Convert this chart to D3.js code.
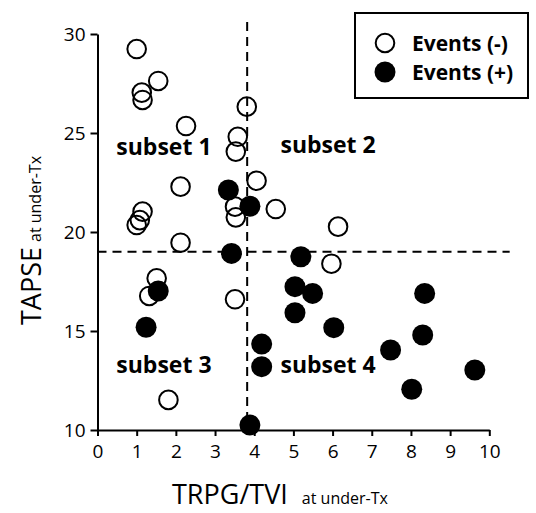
<!DOCTYPE html>
<meta charset="utf-8">
<script src="https://d3js.org/d3.v7.min.js"></script>
<style>
  body { margin: 0; background: #fff; }
  text { font-family: "Open Sans", sans-serif; fill: #000; }
</style>
<div id="chart"></div>
<script>
// Events (-) : open circles  [TRPG/TVI, TAPSE]
const eventsNeg = [
  [1.0, 29.24], [1.55, 27.63], [1.13, 27.04], [1.15, 26.67], [3.81, 26.33],
  [2.26, 25.35], [3.58, 24.81], [3.53, 24.06], [2.12, 22.29], [4.06, 22.59],
  [1.15, 21.03], [1.08, 20.6], [1.0, 20.35], [3.51, 21.28], [3.53, 20.74],
  [4.55, 21.16], [6.14, 20.27], [2.12, 19.46], [5.97, 18.4], [1.51, 17.66],
  [1.32, 16.77], [3.51, 16.6], [1.81, 11.52]
];
// Events (+) : filled circles
const eventsPos = [
  [3.34, 22.12], [3.89, 21.3], [3.42, 18.92], [5.19, 18.75], [5.04, 17.24],
  [5.49, 16.9], [1.55, 17.02], [5.04, 15.92], [1.24, 15.19], [6.03, 15.17],
  [8.35, 16.9], [8.3, 14.8], [7.48, 14.04], [4.19, 14.34], [4.19, 13.2],
  [9.63, 13.03], [8.02, 12.06], [3.89, 10.25]
];
const xTicks = [0, 1, 2, 3, 4, 5, 6, 7, 8, 9, 10];
const yTicks = [10, 15, 20, 25, 30];
const cutX = 3.82;   // vertical dashed cut-off
const cutY = 19.0;   // horizontal dashed cut-off
const subsets = [
  {label: "subset 1", x: 0.48, y: 23.9},
  {label: "subset 2", x: 4.67, y: 24.0},
  {label: "subset 3", x: 0.48, y: 12.9},
  {label: "subset 4", x: 4.67, y: 12.9}
];
const legendItems = ["Events (-)", "Events (+)"];

const width = 536, height = 513;

const svg = d3.select("#chart")
  .append("svg")
    .attr("width", width)
    .attr("height", height);

const x = d3.scaleLinear().domain([0, 10]).range([97.5, 489.3]);
const y = d3.scaleLinear().domain([10, 30]).range([430, 34]);

// axes
const xAxis = svg.append("g")
  .attr("transform", `translate(0,${y(10)})`)
  .call(d3.axisBottom(x).tickValues(xTicks).tickSize(6).tickSizeOuter(0).tickPadding(6));
const yAxis = svg.append("g")
  .attr("transform", `translate(${x(0)},0)`)
  .call(d3.axisLeft(y).tickValues(yTicks).tickSize(7).tickSizeOuter(0).tickPadding(5));

[xAxis, yAxis].forEach(a => {
  a.selectAll("path, line").attr("stroke", "#000").attr("stroke-width", 2);
  a.selectAll("text")
    .style("font-family", "'Open Sans', sans-serif")
    .style("font-size", "19px")
    .attr("fill", "#000");
});
xAxis.selectAll("text").attr("dy", "0.85em");
yAxis.selectAll("text").attr("dy", "0.35em");

// dashed cut-off lines
svg.append("line")
  .attr("x1", x(cutX)).attr("x2", x(cutX))
  .attr("y1", y(30.6)).attr("y2", y(10))
  .attr("stroke", "#000").attr("stroke-width", 2)
  .attr("stroke-dasharray", "9,6");
svg.append("line")
  .attr("x1", x(0)).attr("x2", x(10.52))
  .attr("y1", y(cutY)).attr("y2", y(cutY))
  .attr("stroke", "#000").attr("stroke-width", 2)
  .attr("stroke-dasharray", "9,6");

// subset labels
svg.selectAll(".subset")
  .data(subsets)
  .join("text")
    .attr("class", "subset")
    .attr("x", d => x(d.x))
    .attr("y", d => y(d.y))
    .style("font-size", "23px")
    .style("font-weight", "bold")
    .text(d => d.label);

// points
svg.append("g")
  .selectAll("circle")
  .data(eventsNeg)
  .join("circle")
    .attr("cx", d => x(d[0]))
    .attr("cy", d => y(d[1]))
    .attr("r", 9.3)
    .attr("fill", "none")
    .attr("stroke", "#000")
    .attr("stroke-width", 2);

svg.append("g")
  .selectAll("circle")
  .data(eventsPos)
  .join("circle")
    .attr("cx", d => x(d[0]))
    .attr("cy", d => y(d[1]))
    .attr("r", 10.5)
    .attr("fill", "#000");

// legend
const legend = svg.append("g");
legend.append("rect")
  .attr("x", 355).attr("y", 13)
  .attr("width", 173).attr("height", 85)
  .attr("fill", "#fff")
  .attr("stroke", "#000").attr("stroke-width", 2);
legendItems.forEach((t, i) => {
  const cy = 43 + i * 29;
  legend.append("circle")
    .attr("cx", 385).attr("cy", cy)
    .attr("r", i === 0 ? 9.3 : 10.5)
    .attr("fill", i === 0 ? "none" : "#000")
    .attr("stroke", i === 0 ? "#000" : "none")
    .attr("stroke-width", 2);
  legend.append("text")
    .attr("x", 412).attr("y", cy + 8)
    .style("font-size", "21px")
    .style("font-weight", "bold")
    .text(t);
});

// axis titles
const xt = svg.append("text")
  .attr("x", 172).attr("y", 504);
xt.append("tspan").style("font-size", "27px").text("TRPG/TVI");
xt.append("tspan").attr("dx", 14).style("font-size", "16px").text("at under-Tx");

const yt = svg.append("text")
  .attr("transform", `translate(41,${325}) rotate(-90)`);
yt.append("tspan").style("font-size", "27px").text("TAPSE");
yt.append("tspan").attr("dx", 5).style("font-size", "16px").text("at under-Tx");
</script>
